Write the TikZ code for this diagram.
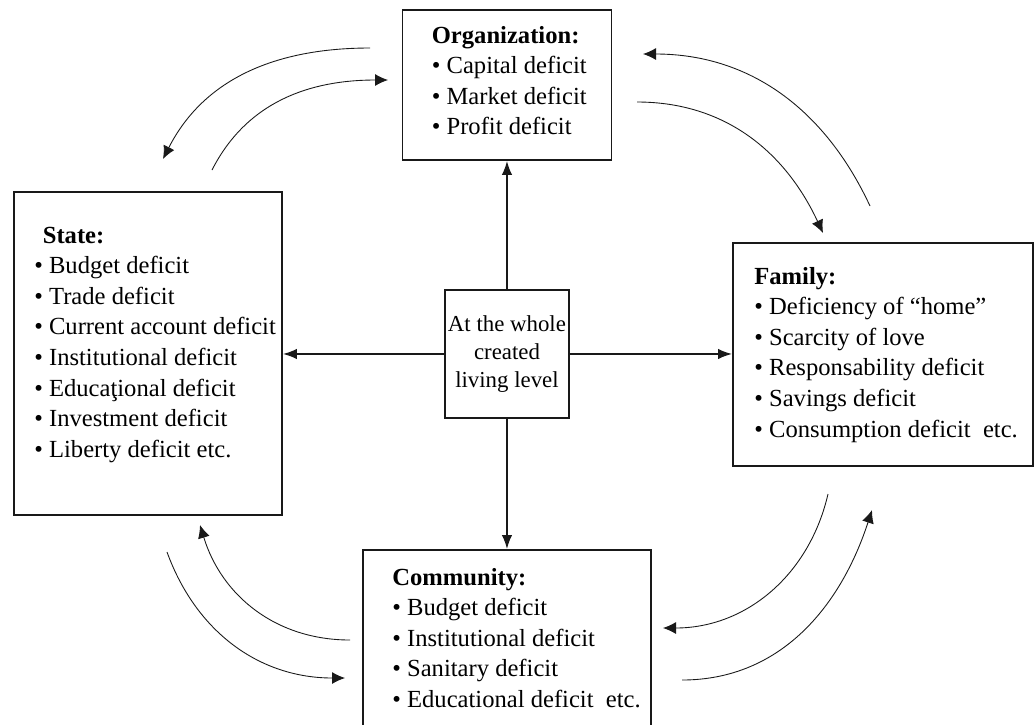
\documentclass[tikz,border=0pt]{standalone}
\usepackage{fontspec}
\setmainfont{Liberation Serif}
\usetikzlibrary{arrows.meta,positioning,calc}
\newcommand{\bul}{\textbullet\ }

\begin{document}
\begin{tikzpicture}[font=\fontsize{14}{17.4}\selectfont,>=Latex]
\tikzset{box/.style={draw=black!90,line width=1.1pt,minimum width=#1,anchor=north west,inner sep=0pt}, txt/.style={anchor=base west,align=left,inner sep=0pt}, flow/.style={-{Latex[length=2.8mm,width=2.1mm]},line width=0.9pt,draw=black!90}, swirl/.style={-{Latex[length=2.6mm,width=2.4mm]},line width=0.5pt,draw=black!90}}
\useasboundingbox (0,0) rectangle (20.7,-14.48);
% base of a list node sits on its last line
\node[box=4.18cm,minimum height=3.00cm] (org) at (8.03,-0.18) {};
\node[txt] (orgtxt) at ($(org.north west)+(0.6,-2.516)$) {\textbf{Organization:}\\\bul Capital deficit\\\bul Market deficit\\\bul Profit deficit};
\node[box=5.36cm,minimum height=6.46cm] (state) at (0.26,-3.82) {};
\node[txt] (statetxt) at ($(state.north west)+(0.42,-5.324)$) {\hspace*{0.17cm}\textbf{State:}\\\bul Budget deficit\\\bul Trade deficit\\\bul Current account deficit\\\bul Institutional deficit\\\bul Educaţional deficit\\\bul Investment deficit\\\bul Liberty deficit etc.};
\node[box=6.00cm,minimum height=4.46cm] (fam) at (14.64,-4.84) {};
\node[txt] (famtxt) at ($(fam.north west)+(0.44,-3.90)$) {\textbf{Family:}\\\bul Deficiency of ``home''\\\bul Scarcity of love\\\bul Responsability deficit\\\bul Savings deficit\\\bul Consumption deficit\ \ etc.};
\node[box=5.76cm,minimum height=4.00cm] (com) at (7.24,-10.98) {};
\node[txt] (comtxt) at ($(com.north west)+(0.6,-3.168)$) {\textbf{Community:}\\\bul Budget deficit\\\bul Institutional deficit\\\bul Sanitary deficit\\\bul Educational deficit\ \ etc.};
\node[box=2.48cm,minimum height=2.56cm] (mid) at (8.88,-5.78) {};
\node[align=center,inner sep=0pt,font=\fontsize{13}{15.9}\selectfont] (midtxt) at (mid.center) {At the whole\\created\\living level};
% Spokes from the centre box
\draw[flow] (mid.north) -- (org.south);
\draw[flow] (mid.south) -- (com.north);
\draw[flow] (mid.west) -- (mid.west -| state.east);
\draw[flow] (mid.east) -- (mid.east -| fam.west);
% Curved exchanges between neighbouring boxes
\coordinate (tla) at (7.40,-0.96); \coordinate (tlb) at (3.26,-3.18);
\coordinate (tlc) at (4.24,-3.40); \coordinate (tld) at (7.76,-1.60);
\coordinate (tra) at (17.40,-4.12); \coordinate (trb) at (12.86,-1.08);
\coordinate (trc) at (12.74,-2.04); \coordinate (trd) at (16.46,-4.66);
\coordinate (bla) at (3.34,-11.04); \coordinate (blb) at (6.90,-13.56);
\coordinate (blc) at (7.00,-12.80); \coordinate (bld) at (4.00,-10.50);
\coordinate (bra) at (16.56,-9.88); \coordinate (brb) at (13.26,-12.56);
\coordinate (brc) at (13.64,-13.60); \coordinate (brd) at (17.44,-10.20);
\draw[swirl] (tla) to[out=180,in=63] (tlb);
\draw[swirl] (tlc) to[out=63,in=180] (tld);
\draw[swirl] (tra) to[out=115,in=0] (trb);
\draw[swirl] (trc) to[out=0,in=115] (trd);
\draw[swirl] (bla) to[out=-70,in=180] (blb);
\draw[swirl] (blc) to[out=180,in=-73] (bld);
\draw[swirl] (bra) to[out=257,in=0] (brb);
\draw[swirl] (brc) to[out=0,in=252] (brd);
\end{tikzpicture}
\end{document}
